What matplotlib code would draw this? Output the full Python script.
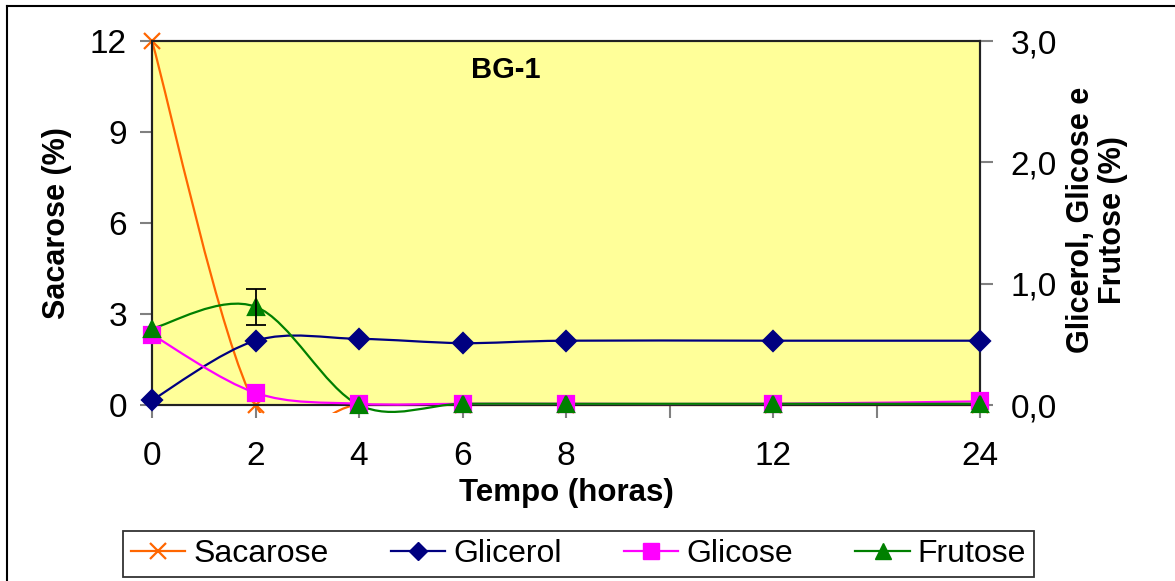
import matplotlib
matplotlib.use("Agg")
import matplotlib.pyplot as plt
from matplotlib.path import Path
from matplotlib.patches import PathPatch, Rectangle
from matplotlib.lines import Line2D
import numpy as np

plt.rcParams['font.family'] = ['Liberation Sans', 'DejaVu Sans']

# categorias do eixo x (9 posicoes, rotulo so em algumas)
tempo_labels = ['0', '2', '4', '6', '8', '', '12', '', '24']
tempo_pos = [0, 1, 2, 3, 4, 6, 8]   # posicao das amostras 0,2,4,6,8,12,24 h

sacarose = [12.0, 0.0, 0.0, 0.0, 0.0, 0.0, 0.0]
glicerol = [0.04, 0.53, 0.545, 0.51, 0.53, 0.53, 0.53]
glicose = [0.58, 0.10, 0.01, 0.01, 0.01, 0.01, 0.03]
frutose = [0.63, 0.81, 0.0, 0.01, 0.01, 0.01, 0.01]
frutose_err = [0, 0.15, 0, 0, 0, 0, 0]

cor_sac = '#FF6600'
cor_gli = '#000080'
cor_glc = '#FF00FF'
cor_fru = '#008000'


def smooth_path(x, y):
    # bezier suavizado estilo excel (catmull-rom, 1/6)
    p = np.column_stack([x, y]).astype(float)
    n = len(p)
    verts = [p[0]]
    codes = [Path.MOVETO]
    for i in range(n - 1):
        p0 = p[i - 1] if i > 0 else p[i]
        p1 = p[i]
        p2 = p[i + 1]
        p3 = p[i + 2] if i + 2 < n else p[i + 1]
        c1 = p1 + (p2 - p0) / 6.0
        c2 = p2 - (p3 - p1) / 6.0
        verts += [c1, c2, p2]
        codes += [Path.CURVE4] * 3
    return Path(verts, codes)


def draw_series(ax, x, y, color, marker, ms, clip):
    patch = PathPatch(smooth_path(x, y), facecolor='none', edgecolor=color,
                      lw=1.6, zorder=3)
    ax.add_patch(patch)
    patch.set_clip_path(clip)
    ax.plot(x, y, linestyle='none', marker=marker, markersize=ms,
            color=color, markeredgecolor=color, mew=1.6, zorder=4,
            clip_on=False)


fig = plt.figure(figsize=(11.75, 5.81), dpi=100)
ax = fig.add_axes([152/1175, 1 - 405/581, 828/1175, 364/581])
ax2 = ax.twinx()

ax.set_facecolor('#FFFF99')
ax2.patch.set_visible(False)

ax.set_xlim(0, 8)
ax.set_ylim(0, 12)
ax2.set_ylim(0, 3)

clip1 = Rectangle((0, -0.022), 1, 1.05, transform=ax.transAxes)
clip2 = Rectangle((0, -0.022), 1, 1.05, transform=ax2.transAxes)

draw_series(ax, tempo_pos, sacarose, cor_sac, 'x', 12, clip1)
draw_series(ax2, tempo_pos, glicerol, cor_gli, 'D', 10, clip2)
draw_series(ax2, tempo_pos, glicose, cor_glc, 's', 11, clip2)
draw_series(ax2, tempo_pos, frutose, cor_fru, '^', 12, clip2)
ax2.errorbar(tempo_pos[1], frutose[1], yerr=frutose_err[1], fmt='none',
             ecolor='black', elinewidth=1.3, capsize=7, capthick=1.3, zorder=5)

ax.set_xticks(range(len(tempo_labels)))
ax.set_xticklabels(tempo_labels)
ax.set_yticks([0, 3, 6, 9, 12])
ax2.set_yticks([0, 1, 2, 3])
ax2.set_yticklabels(['0,0', '1,0', '2,0', '3,0'])

for a in (ax, ax2):
    for s in a.spines.values():
        s.set_color('#222222')
        s.set_linewidth(1.5)
    a.tick_params(labelsize=24, length=9, width=1.5, color='#808080')

ax.tick_params(axis='x', pad=17)
ax.tick_params(axis='y', pad=9)
ax2.tick_params(axis='y', pad=13)

ax.text(0.4275, 0.92, 'BG-1', transform=ax.transAxes, ha='center',
        va='center', fontsize=21, fontweight='bold')

fig.text(57/1175, 1 - 223/581, 'Sacarose (%)', rotation=90, ha='center',
         va='center', fontsize=22, fontweight='bold')
fig.text(1097/1175, 1 - 220/581, 'Glicerol, Glicose e\nFrutose (%)',
         rotation=90, ha='center', va='center', fontsize=22,
         fontweight='bold', multialignment='center', linespacing=1.05)
fig.text(566/1175, 1 - 493/581, 'Tempo (horas)', ha='center', va='center',
         fontsize=22.5, fontweight='bold')

handles = [
    Line2D([], [], color=cor_sac, marker='x', ms=12, mew=1.6, lw=1.6),
    Line2D([], [], color=cor_gli, marker='D', ms=9, lw=1.6),
    Line2D([], [], color=cor_glc, marker='s', ms=11, lw=1.6),
    Line2D([], [], color=cor_fru, marker='^', ms=11, lw=1.6),
]
leg = fig.legend(handles, ['Sacarose', 'Glicerol', 'Glicose', 'Frutose'],
                 loc='lower left', ncol=4, mode='expand',
                 bbox_to_anchor=(123/1175, 4/581, 911/1175, 49/581),
                 borderaxespad=0, fontsize=23, frameon=True, fancybox=False,
                 edgecolor='black', handlelength=1.7, handletextpad=0.25,
                 columnspacing=1.2, borderpad=0.25)
leg.get_frame().set_linewidth(1.3)

# moldura do grafico (so aparece em cima e a esquerda)
fig.add_artist(Line2D([7/1175, 7/1175], [0, 1 - 6/581], transform=fig.transFigure,
                      color='black', lw=1.5))
fig.add_artist(Line2D([7/1175, 1], [1 - 6/581, 1 - 6/581], transform=fig.transFigure,
                      color='black', lw=1.5))

fig.savefig('out.png', dpi=100)
plt.close(fig)
